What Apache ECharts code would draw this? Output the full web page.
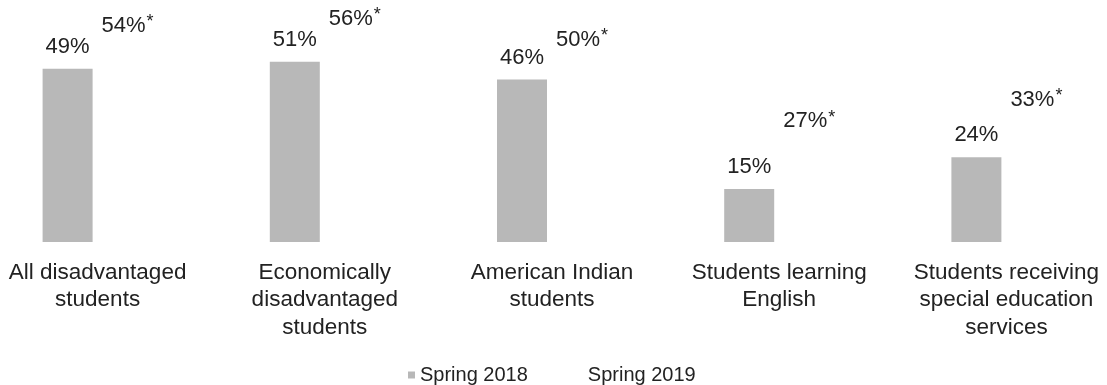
<!DOCTYPE html>
<html>
<head>
<meta charset="utf-8">
<script src="https://cdn.jsdelivr.net/npm/echarts@6/dist/echarts.min.js"></script>
<style>
html,body{margin:0;padding:0;background:#fff;overflow:hidden;width:1107px;height:385px;position:relative;}
#chart{position:absolute;left:-16px;top:0;width:1136px;height:385px;}
</style>
</head>
<body>
<div id="chart"></div>
<script>
const categories = [
  "All disadvantaged\nstudents",
  "Economically\ndisadvantaged\nstudents",
  "American Indian\nstudents",
  "Students learning\nEnglish",
  "Students receiving\nspecial education\nservices"
];
const seriesNames = ["Spring 2018", "Spring 2019"];
const spring2018 = [49, 51, 46, 15, 24];
const spring2019 = [54, 56, 50, 27, 33];
const significant2019 = [true, true, true, true, true];

const FONT = "'Liberation Sans', Arial, sans-serif";
const chart = echarts.init(document.getElementById('chart'), null, {renderer: 'canvas'});

chart.setOption({
  animation: false,
  backgroundColor: '#ffffff',
  grid: {left: 0, right: 0, top: 30, bottom: 143, containLabel: false},
  legend: {
    data: seriesNames,
    left: 424,
    top: 365,
    padding: 0,
    icon: 'rect',
    itemWidth: 7,
    itemHeight: 7,
    itemGap: 48,
    textStyle: {fontFamily: FONT, fontSize: 20, color: '#222'}
  },
  xAxis: {
    type: 'category',
    data: categories,
    axisLine: {show: false},
    axisTick: {show: false},
    axisLabel: {
      interval: 0,
      margin: 17,
      fontFamily: FONT,
      fontSize: 22.5,
      lineHeight: 27.5,
      color: '#222'
    }
  },
  yAxis: {
    type: 'value',
    min: 0,
    max: 60,
    show: false,
    splitLine: {show: false}
  },
  series: [
    {
      name: seriesNames[0],
      type: 'bar',
      data: spring2018,
      barWidth: 50,
      barGap: '20%',
      itemStyle: {color: '#b8b8b8'},
      label: {
        show: true,
        position: 'top',
        distance: 11,
        fontFamily: FONT,
        fontSize: 22,
        color: '#222',
        formatter: p => p.value + '%'
      }
    },
    {
      name: seriesNames[1],
      type: 'bar',
      data: spring2019,
      barWidth: 50,
      itemStyle: {color: '#ffffff'},
      label: {
        show: true,
        position: 'top',
        distance: 13,
        fontFamily: FONT,
        fontSize: 22,
        color: '#222',
        formatter: p => '{a|' + p.value + '%}' + (significant2019[p.dataIndex] ? '{s|*}' : ''),
        rich: {
          a: {fontFamily: FONT, fontSize: 22, color: '#222'},
          s: {fontFamily: FONT, fontSize: 18, color: '#222', padding: [0, 0, 7, 1]}
        }
      }
    }
  ]
});
</script>
</body>
</html>
